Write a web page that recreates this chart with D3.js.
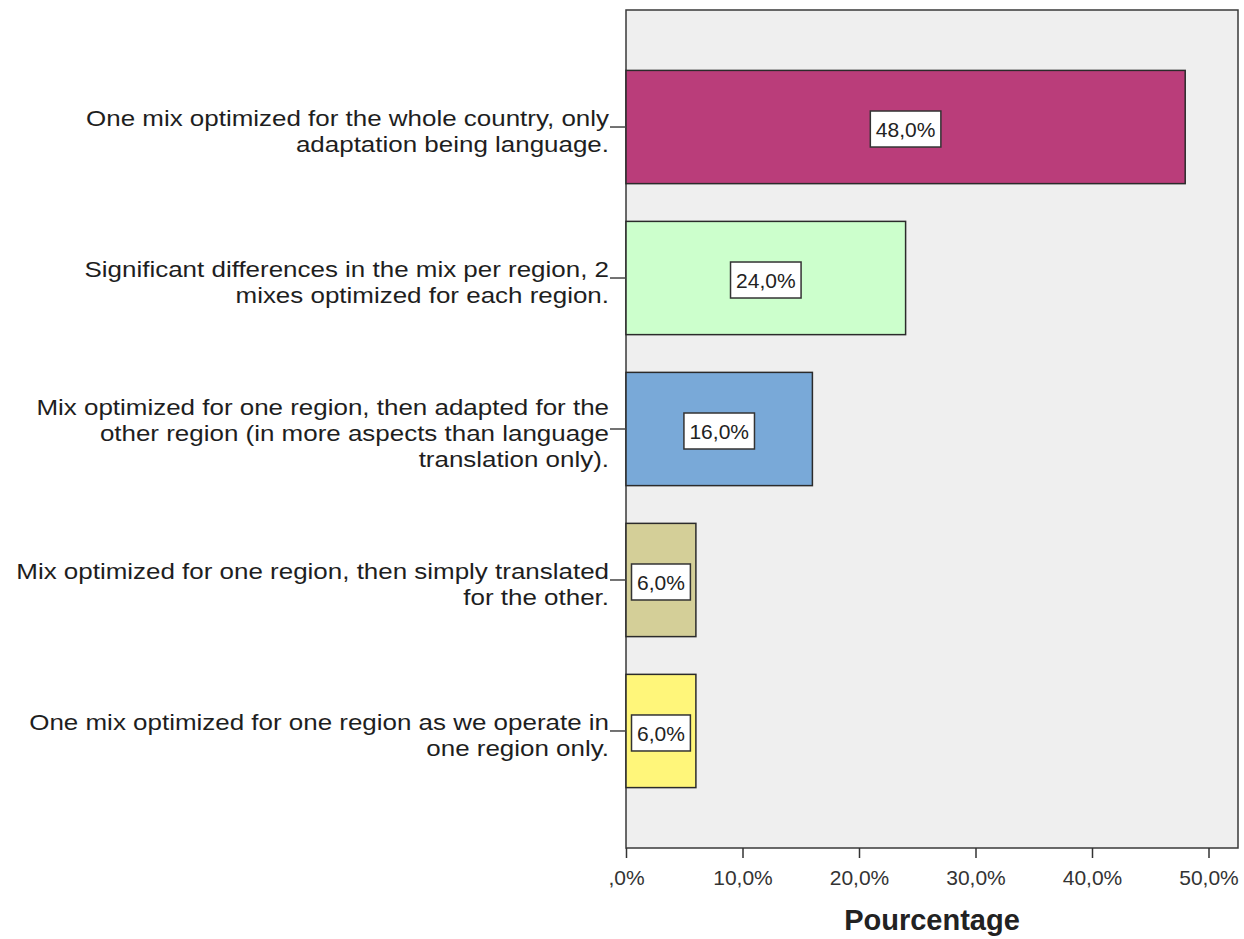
<!DOCTYPE html>
<html>
<head>
<meta charset="utf-8">
<script src="https://cdn.jsdelivr.net/npm/d3@7"></script>
<style>
  html, body { margin: 0; padding: 0; background: #ffffff; }
  svg { display: block; }
  text { font-family: "Liberation Sans", Arial, sans-serif; }
</style>
</head>
<body>
<svg id="chart" width="1244" height="939"></svg>
<script>
// Survey answers (one bar per answer) and their share of respondents, in %
const categories = [
  ["One mix optimized for the whole country, only", "adaptation being language."],
  ["Significant differences in the mix per region, 2", "mixes optimized for each region."],
  ["Mix optimized for one region, then adapted for the", "other region (in more aspects than language", "translation only)."],
  ["Mix optimized for one region, then simply translated", "for the other."],
  ["One mix optimized for one region as we operate in", "one region only."]
];
const percentages = [48.0, 24.0, 16.0, 6.0, 6.0];
const barColors = ["#BA3D7A", "#CCFFCC", "#79A9D8", "#D4CF98", "#FFF67A"];
const tickValues = [0, 10, 20, 30, 40, 50];
const axisTitle = "Pourcentage";

const fmt = v => {
  const s = v.toFixed(1).replace(".", ",");
  return (s.startsWith("0,") ? s.slice(1) : s) + "%";
};

const svg = d3.select("#chart");
const plot = { left: 626, top: 10, right: 1238, bottom: 848 };

const x = d3.scaleLinear().domain([0, 50]).range([plot.left, 1208.5]);
const y = d3.scaleBand()
  .domain(d3.range(categories.length))
  .range([plot.top, plot.bottom])
  .paddingInner(0.25)
  .paddingOuter(0.4);

// plot background
svg.append("rect")
  .attr("x", plot.left).attr("y", plot.top)
  .attr("width", plot.right - plot.left).attr("height", plot.bottom - plot.top)
  .attr("fill", "#EFEFEF")
  .attr("stroke", "#3a3a3a").attr("stroke-width", 1.5);

// bars
svg.append("g").selectAll("rect")
  .data(percentages)
  .join("rect")
  .attr("x", x(0))
  .attr("y", (d, i) => y(i))
  .attr("width", d => x(d) - x(0))
  .attr("height", y.bandwidth())
  .attr("fill", (d, i) => barColors[i])
  .attr("stroke", "#2b2b2b").attr("stroke-width", 1.5);

// value labels in white boxes sized to their text
const vl = svg.append("g").selectAll("g")
  .data(percentages)
  .join("g")
  .attr("transform", (d, i) => `translate(${(x(0) + x(d)) / 2},${y(i) + y.bandwidth() / 2 + 2})`);
vl.append("rect")
  .attr("fill", "#ffffff").attr("stroke", "#333333").attr("stroke-width", 1.5);
const vlText = vl.append("text")
  .attr("text-anchor", "middle").attr("dy", "0.36em")
  .attr("font-size", 21).attr("fill", "#222222")
  .text(d => fmt(d));
vlText.each(function () {
  const w = this.getComputedTextLength() + 11;
  d3.select(this.parentNode).select("rect")
    .attr("x", -w / 2).attr("y", -18).attr("width", w).attr("height", 36);
});

// category axis
const yAxis = d3.axisLeft(y).tickSize(16).tickFormat("");
const gy = svg.append("g").attr("transform", `translate(${plot.left},0)`).call(yAxis);
gy.select(".domain").remove();
gy.selectAll(".tick line").attr("stroke", "#444444").attr("stroke-width", 1.5);

// category labels: wide lettering, right-aligned against the tick marks
const lineH = 26;
svg.append("g").selectAll("text")
  .data(categories)
  .join("text")
  .attr("text-anchor", "end")
  .attr("font-size", 22).attr("fill", "#1e1e1e")
  .attr("transform", (d, i) => {
    const cy = y(i) + y.bandwidth() / 2 + 4;
    const top = cy - (d.length - 1) * lineH / 2;
    return `translate(609,${top}) scale(1.18,1)`;
  })
  .selectAll("tspan")
  .data(d => d)
  .join("tspan")
  .attr("x", 0)
  .attr("y", (d, j) => j * lineH)
  .attr("dy", "0.35em")
  .text(d => d);

// percentage axis
const xAxis = d3.axisBottom(x).tickValues(tickValues).tickSize(10).tickFormat(fmt);
const gx = svg.append("g").attr("transform", `translate(0,${plot.bottom})`).call(xAxis);
gx.select(".domain").remove();
gx.selectAll(".tick line").attr("stroke", "#333333").attr("stroke-width", 1.5);
gx.selectAll(".tick text")
  .attr("font-family", "Liberation Sans, Arial, sans-serif")
  .attr("font-size", 21).attr("fill", "#333333")
  .attr("y", 37).attr("dy", 0);

svg.append("text")
  .attr("x", (plot.left + plot.right) / 2)
  .attr("y", 930)
  .attr("text-anchor", "middle")
  .attr("font-size", 29).attr("font-weight", "bold").attr("fill", "#222222")
  .text(axisTitle);
</script>
</body>
</html>
